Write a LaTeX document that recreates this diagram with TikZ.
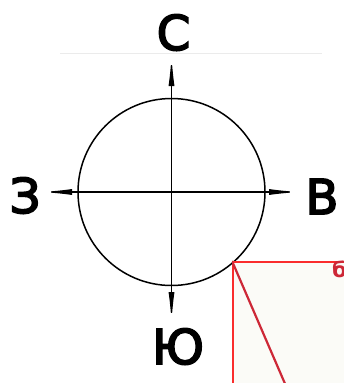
\documentclass[tikz,border=0pt]{standalone}
\usepackage{fontspec}
\setmainfont{DejaVu Sans}
\newfontfamily\heavy[FakeBold=3.5]{DejaVu Sans}
\usepackage{tikz}
\usetikzlibrary{arrows.meta}
\definecolor{boxred}{RGB}{250,45,45}
\definecolor{markred}{RGB}{205,40,55}
\definecolor{paper}{RGB}{251,251,247}

\begin{document}
\begin{tikzpicture}[
    x=1pt, y=-1pt,
    every node/.style={inner sep=0pt},
    axis/.style={line width=1.3pt, black},
    wedge/.style={axis, -{Latex[length=31pt, width=6pt]}},
    label/.style={anchor=base, font=\heavy\fontsize{48}{48}\selectfont}
]
\useasboundingbox (0,0) rectangle (343,383);

% faint edge of the scan
\draw[black!8, line width=0.8pt] (60,53) -- (322,53);

% circle and centre
\coordinate (c) at (171.5,192);
\node[draw, circle, line width=1.5pt, minimum size=187pt] (ring) at (c) {};

% tips of the four arrows
\coordinate (ntip) at (171.5,55);
\coordinate (stip) at (171.5,323);
\coordinate (wtip) at (41,192);
\coordinate (etip) at (300,192);

\draw[wedge] (c) -- (ntip);
\draw[wedge] (c) -- (stip);
\draw[wedge] (c) -- (wtip);
\draw[wedge] (c) -- (etip);

% directions
\node[label] (north) at (173.5,50) {С};
\node[label] (east) at (322,214) {В};
\node[label] (west) at (25,213) {З};
\node[label] (south) at (178,364) {Ю};

% cut-off inset, bottom right
\node[draw=boxred, fill=paper, line width=1.6pt, anchor=north west,
      minimum width=115pt, minimum height=125pt] (inset) at (232,261) {};
\begin{scope}
\clip (232,260) rectangle (343,383);
\draw[markred, line width=2.2pt] (inset.north west) -- (286,386);
\node[anchor=base west, text=markred, font=\bfseries\fontsize{21}{21}\selectfont] (mark) at (332,277) {б};
\end{scope}

\end{tikzpicture}
\end{document}
